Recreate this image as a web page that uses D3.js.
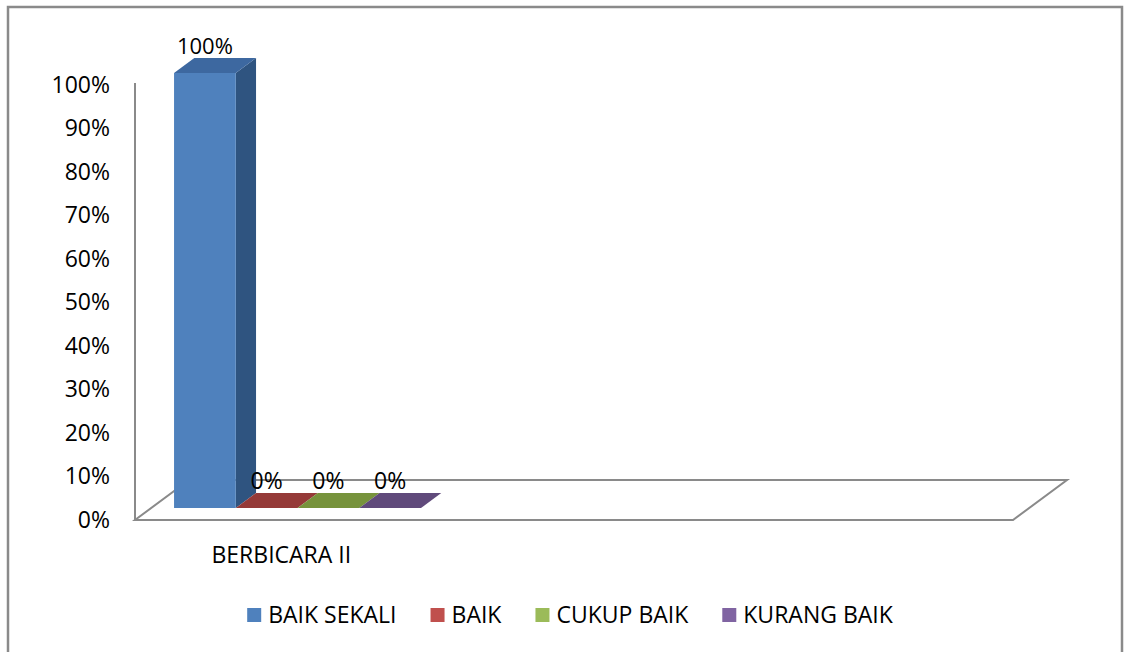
<!DOCTYPE html>
<html>
<head>
<meta charset="utf-8">
<script src="https://cdn.jsdelivr.net/npm/d3@7"></script>
<style>
  html, body { margin: 0; padding: 0; background: #ffffff; }
  svg { display: block; }
  text { font-family: "Open Sans", "Liberation Sans", sans-serif; fill: #000; }
</style>
</head>
<body>
<svg id="chart" width="1124" height="652"></svg>
<script>
// ---- data ----
const categories = ["BERBICARA II", "", ""];
const seriesNames = ["BAIK SEKALI", "BAIK", "CUKUP BAIK", "KURANG BAIK"];
const seriesValues = [1.00, 0.00, 0.00, 0.00];
const valueLabels = ["100%", "0%", "0%", "0%"];
const yTicks = [0, 0.1, 0.2, 0.3, 0.4, 0.5, 0.6, 0.7, 0.8, 0.9, 1.0];
const seriesColors = ["#4F81BD", "#C0504D", "#9BBB59", "#8064A2"];
const seriesTopColors = ["#3D68A0", "#953A38", "#77933C", "#604A7B"];
const seriesSideColors = ["#2F5480", "#7A2E2C", "#5F7830", "#4D3B63"];

// ---- layout ----
const svg = d3.select("#chart");
const left = 135, right = 1013, floorY = 520, topY = 85;
const depthX = 54, depthY = -40;         // full floor depth
const barFrontFrac = 0.30, barBackFrac = 0.675;
const bfx = depthX * barFrontFrac, bfy = depthY * barFrontFrac;
const bbx = depthX * barBackFrac, bby = depthY * barBackFrac;
const gray = "#8A8A8A";
const fs = 23;

// outer border
svg.append("rect").attr("x", 8).attr("y", 7).attr("width", 1114).attr("height", 680)
  .attr("fill", "none").attr("stroke", gray).attr("stroke-width", 2.5);

const y = d3.scaleLinear().domain([0, 1]).range([floorY, topY]);
const x0 = d3.scaleBand().domain(categories.map((c, i) => i)).range([left, right]).padding(0);
const x1 = d3.scaleBand().domain(seriesNames).range([0, x0.bandwidth()])
  .paddingInner(0).paddingOuter(0.37);

// floor
const floorPts = [[left, floorY], [right, floorY], [right + depthX, floorY + depthY], [left + depthX, floorY + depthY]];
svg.append("polygon").attr("points", floorPts.map(p => p.join(",")).join(" "))
  .attr("fill", "none").attr("stroke", gray).attr("stroke-width", 2).attr("stroke-linejoin", "miter");

// y axis line
svg.append("line").attr("x1", left).attr("x2", left).attr("y1", y(1) - 2).attr("y2", floorY)
  .attr("stroke", gray).attr("stroke-width", 2);

// y tick labels via d3 axis (no ticks/domain shown)
const yAxis = d3.axisLeft(y).tickValues(yTicks).tickFormat(d3.format(".0%")).tickSize(0).tickPadding(0);
const gy = svg.append("g").attr("transform", `translate(${left - 25},0)`).call(yAxis);
gy.select(".domain").remove();
gy.selectAll("text").attr("font-size", fs).attr("font-family", "'Open Sans', sans-serif").attr("fill", "#000");

// bars
const bars = seriesNames.map((s, i) => ({ name: s, value: seriesValues[i], label: valueLabels[i], i }));
const gBars = svg.append("g");
bars.forEach(d => {
  const xa = x0(0) + x1(d.name) + bfx;
  const xb = xa + x1.bandwidth();
  const yb = y(0) + bfy;
  const yt = y(d.value) + bfy;
  const dx = bbx - bfx, dy = bby - bfy;
  if (d.value > 0) {
    gBars.append("polygon").attr("points", [[xb, yt], [xb + dx, yt + dy], [xb + dx, yb + dy], [xb, yb]].map(p => p.join(",")).join(" "))
      .attr("fill", seriesSideColors[d.i]);
    gBars.append("polygon").attr("points", [[xa, yt], [xa + dx, yt + dy], [xb + dx, yt + dy], [xb, yt]].map(p => p.join(",")).join(" "))
      .attr("fill", seriesTopColors[d.i]);
    gBars.append("rect").attr("x", xa).attr("y", yt).attr("width", xb - xa).attr("height", yb - yt)
      .attr("fill", seriesColors[d.i]);
  } else {
    gBars.append("polygon").attr("points", [[xa, yb], [xa + dx, yb + dy], [xb + dx, yb + dy], [xb, yb]].map(p => p.join(",")).join(" "))
      .attr("fill", seriesTopColors[d.i]);
  }
  gBars.append("text").attr("x", (xa + xb) / 2).attr("y", yt + dy - 4)
    .attr("text-anchor", "middle").attr("font-size", d.value > 0 ? 22 : fs).text(d.label);
});

// category label
svg.append("text").attr("x", x0(0) + x0.bandwidth() / 2).attr("y", 563)
  .attr("text-anchor", "middle").attr("font-size", fs).text(categories[0]);

// legend
const lg = svg.append("g");
let cx = 0;
const gapItems = 34;
seriesNames.forEach((s, i) => {
  const g = lg.append("g");
  g.append("rect").attr("x", 0).attr("y", -7).attr("width", 14).attr("height", 14).attr("fill", seriesColors[i]);
  const t = g.append("text").attr("x", 21).attr("y", 8).attr("font-size", fs).text(s);
  const w = 21 + t.node().getComputedTextLength();
  g.attr("transform", `translate(${cx},0)`);
  cx += w + gapItems;
});
const totalW = cx - gapItems;
lg.attr("transform", `translate(${570 - totalW / 2},615)`);
</script>
</body>
</html>
